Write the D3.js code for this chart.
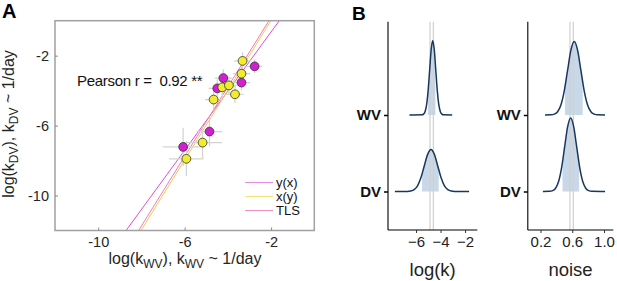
<!DOCTYPE html>
<html><head><meta charset="utf-8">
<script src="https://cdn.jsdelivr.net/npm/d3@7"></script>
<style>
body{margin:0;background:#fff;}
svg{display:block;font-family:"Liberation Sans",Arial,Helvetica,sans-serif;}
</style></head>
<body><svg id="c" width="617" height="281"></svg>
<script>
// ---------- Panel A data ----------
const ptsMagenta = [ // [logkWV, logkDV, errX, errY]
  [-6.07,-7.22,0.95,1.1],[-4.85,-6.34,0.6,0.85],[-4.49,-3.87,0.4,0.5],
  [-4.21,-3.28,0.4,0.5],[-3.37,-3.54,0.4,0.45],[-2.76,-2.61,0.35,0.4]
];
const ptsYellow = [
  [-5.92,-7.90,0.8,1.0],[-5.17,-6.97,0.9,0.9],[-4.66,-4.51,0.4,0.6],
  [-4.26,-3.81,0.4,0.5],[-3.95,-3.70,0.4,0.5],[-3.67,-4.21,0.4,0.5],
  [-3.37,-3.03,0.4,0.5],[-3.32,-2.30,0.4,0.5]
];
const fitNames = ["y(x)","x(y)","TLS"];
const fitEnds = [ // endpoints [x at y=-12, x at y=0]
  [[-8.71,-12],[-1.62,0]],
  [[-8.02,-12],[-2.01,0]],
  [[-8.13,-12],[-2.10,0]]
];
const fitColors = ["#dc4ddc","#f5c84a","#f27ab8"];
const legendColors = ["#e58de5","#f7e07a","#f28fc6"];
const axTicksA = [-10,-6,-2];
const pearsonText = "Pearson r =  0.92 **";

// ---------- Panel B data ----------
const rows = ["WV","DV"];
const ticksLogk = [-6,-4,-2];
const ticksNoise = [0.2,0.6,1.0];
const densLogkWV = [[-6.54,0],[-5.515,0.002],[-5.39,0.011],[-5.265,0.043],[-5.14,0.131],[-5.015,0.315],[-4.89,0.588],[-4.765,0.856],[-4.64,0.97],[-4.515,0.856],[-4.39,0.588],[-4.265,0.315],[-4.14,0.131],[-4.015,0.043],[-3.89,0.011],[-3.765,0.002],[-3.05,0]];
const densLogkDV = [[-7.73,0],[-6.705,0.001],[-6.43,0.006],[-6.155,0.024],[-5.88,0.074],[-5.605,0.179],[-5.33,0.334],[-5.055,0.485],[-4.78,0.55],[-4.505,0.485],[-4.23,0.334],[-3.955,0.179],[-3.68,0.074],[-3.405,0.024],[-3.13,0.006],[-2.855,0.001],[-1.67,0]];
const densNoiseWV = [[0.257,0],[0.331,0.002],[0.373,0.011],[0.415,0.042],[0.457,0.130],[0.499,0.312],[0.541,0.582],[0.583,0.847],[0.625,0.96],[0.667,0.847],[0.709,0.582],[0.751,0.312],[0.793,0.130],[0.835,0.042],[0.877,0.011],[0.919,0.002],[1.013,0]];
const densNoiseDV = [[0.23,0],[0.314,0.002],[0.352,0.011],[0.39,0.042],[0.428,0.130],[0.466,0.312],[0.504,0.582],[0.542,0.847],[0.58,0.96],[0.618,0.847],[0.656,0.582],[0.694,0.312],[0.732,0.130],[0.77,0.042],[0.808,0.011],[0.846,0.002],[1.013,0]];
const ciLogk = {WV:[-5.02,-4.42], DV:[-5.51,-4.15]};
const ciNoise = {WV:[0.508,0.731], DV:[0.477,0.686]};
const refLogk = [-4.86,-4.59];
const refNoise = [0.571,0.613];

const svg = d3.select("#c");

// ================= Panel A =================
const xA = d3.scaleLinear().domain([-12,0]).range([55,314.3]);
const yA = d3.scaleLinear().domain([-12,0]).range([230.5,20.7]);
const gA = svg.append("g");
gA.append("defs").append("clipPath").attr("id","clipA").append("rect")
  .attr("x",xA(-12)).attr("y",yA(0)).attr("width",xA(0)-xA(-12)).attr("height",yA(-12)-yA(0));

const plotA = gA.append("g").attr("clip-path","url(#clipA)");
fitEnds.forEach((e,i)=>{
  plotA.append("line").attr("x1",xA(e[0][0])).attr("y1",yA(e[0][1]))
    .attr("x2",xA(e[1][0])).attr("y2",yA(e[1][1]))
    .attr("stroke",fitColors[i]).attr("stroke-width",1);
});
const allPts = ptsMagenta.map(p=>({p,c:"#d21fd2"})).concat(ptsYellow.map(p=>({p,c:"#f2ec2c"})));
allPts.forEach(({p})=>{
  plotA.append("line").attr("x1",xA(p[0]-p[2])).attr("x2",xA(p[0]+p[2])).attr("y1",yA(p[1])).attr("y2",yA(p[1]))
    .attr("stroke","#d4d4d4").attr("stroke-width",1.3);
  plotA.append("line").attr("x1",xA(p[0])).attr("x2",xA(p[0])).attr("y1",yA(p[1]-p[3])).attr("y2",yA(p[1]+p[3]))
    .attr("stroke","#d4d4d4").attr("stroke-width",1.3);
});
allPts.forEach(({p,c})=>{
  plotA.append("circle").attr("cx",xA(p[0])).attr("cy",yA(p[1])).attr("r",4.4)
    .attr("fill",c).attr("stroke","#333").attr("stroke-width",0.8);
});
gA.append("rect").attr("x",xA(-12)).attr("y",yA(0)).attr("width",xA(0)-xA(-12)).attr("height",yA(-12)-yA(0))
  .attr("fill","none").attr("stroke","#a0a0a0").attr("stroke-width",1.5);
const axXA = gA.append("g").attr("transform",`translate(0,${yA(-12)})`)
  .call(d3.axisBottom(xA).tickValues(axTicksA).tickSize(-3).tickPadding(6).tickFormat(d=>String(d)));
const axYA = gA.append("g").attr("transform",`translate(${xA(-12)},0)`)
  .call(d3.axisLeft(yA).tickValues(axTicksA).tickSize(-3).tickPadding(6).tickFormat(d=>String(d)));
[axXA,axYA].forEach(a=>{
  a.select(".domain").remove();
  a.selectAll(".tick line").attr("stroke","#8a8a8a");
  a.selectAll("text").attr("font-size",14.5).attr("fill","#262626").attr("font-family","Liberation Sans, Arial, sans-serif");
});
gA.append("text").attr("x",77).attr("y",86).attr("font-size",15).attr("letter-spacing",-0.3).attr("fill","#111")
  .attr("xml:space","preserve").text(pearsonText);
fitNames.forEach((n,i)=>{
  const yy = 182.5 + i*14;
  gA.append("line").attr("x1",245).attr("x2",273).attr("y1",yy).attr("y2",yy)
    .attr("stroke",legendColors[i]).attr("stroke-width",1);
  gA.append("text").attr("x",276).attr("y",yy+4.5).attr("font-size",13).attr("fill","#111").text(n);
});
const xl = gA.append("text").attr("x",185).attr("y",264).attr("text-anchor","middle").attr("font-size",16).attr("fill","#262626");
xl.append("tspan").text("log(k");
xl.append("tspan").attr("font-size",12).attr("dy",4).text("WV");
xl.append("tspan").attr("dy",-4).text("), k");
xl.append("tspan").attr("font-size",12).attr("dy",4).text("WV");
xl.append("tspan").attr("dy",-4).text(" ~ 1/day");
const yl = gA.append("text").attr("transform","translate(14,124) rotate(-90)").attr("text-anchor","middle").attr("font-size",16).attr("fill","#262626");
yl.append("tspan").text("log(k");
yl.append("tspan").attr("font-size",12).attr("dy",4).text("DV");
yl.append("tspan").attr("dy",-4).text("), k");
yl.append("tspan").attr("font-size",12).attr("dy",4).text("DV");
yl.append("tspan").attr("dy",-4).text(" ~ 1/day");
svg.append("text").attr("x",2).attr("y",18).attr("font-size",20).attr("font-weight","bold").text("A");

// ================= Panel B =================
svg.append("text").attr("x",352).attr("y",20).attr("font-size",19).attr("font-weight","bold").text("B");
const yRow = d3.scalePoint().domain(rows).range([115,191.5]);
const rowH = 76.5;
const topB = 21.7, botB = 230;

function ridgePanel(id, x, dens, ci, refs, ticks, fmt, title){
  const g = svg.append("g");
  const [x0,x1] = x.range();
  rows.forEach(r=>{
    const d = dens[r];
    const base = yRow(r);
    const area = d3.area().x(p=>x(p[0])).y0(base).y1(p=>base - p[1]*rowH).curve(d3.curveMonotoneX);
    const cid = `ci-${id}-${r}`;
    g.append("clipPath").attr("id",cid).append("rect")
      .attr("x",x(ci[r][0])).attr("y",0).attr("width",x(ci[r][1])-x(ci[r][0])).attr("height",281);
    g.append("path").datum(d).attr("d",area).attr("fill","#c9d8e8").attr("clip-path",`url(#${cid})`);
  });
  refs.forEach(r=>{
    g.append("line").attr("x1",x(r)).attr("x2",x(r)).attr("y1",topB).attr("y2",botB)
      .attr("stroke","#d0d0d0").attr("stroke-width",1.2);
  });
  rows.forEach(r=>{
    const d = dens[r];
    const base = yRow(r);
    const line = d3.line().x(p=>x(p[0])).y(p=>base - p[1]*rowH).curve(d3.curveMonotoneX);
    g.append("path").datum(d).attr("d",line).attr("fill","none").attr("stroke","#17375e").attr("stroke-width",1.5);
  });
  const ax = g.append("g").attr("transform",`translate(0,${botB})`)
    .call(d3.axisBottom(x).tickValues(ticks).tickSize(3).tickPadding(3).tickFormat(fmt));
  ax.select(".domain").attr("d",`M${x0},0H${x1}`).attr("stroke","#000").attr("stroke-width",1.1);
  ax.selectAll(".tick line").attr("stroke","#333");
  ax.selectAll("text").attr("font-size",15).attr("fill","#222").attr("font-family","Liberation Sans, Arial, sans-serif");
  const yax = g.append("g").attr("transform",`translate(${x0},0)`)
    .call(d3.axisLeft(yRow).tickSize(4).tickPadding(3));
  yax.select(".domain").attr("d",`M0,${topB}V${botB}`).attr("stroke","#000").attr("stroke-width",1.1);
  yax.selectAll(".tick line").attr("stroke","#000").attr("stroke-width",1.5);
  yax.selectAll("text").attr("font-size",15).attr("font-weight","bold").attr("fill","#111")
    .attr("font-family","Liberation Sans, Arial, sans-serif");
  g.append("text").attr("x",(x0+x1)/2).attr("y",276).attr("text-anchor","middle")
    .attr("font-size",18.5).attr("fill","#222").text(title);
}
const xLogk = d3.scaleLinear().domain([-8.29,-1.0]).range([388,477.3]);
const xNoise = d3.scaleLinear().domain([0.04,1.117]).range([527.8,613.3]);
ridgePanel("k", xLogk, {WV:densLogkWV, DV:densLogkDV}, ciLogk, refLogk, ticksLogk, d=>"\u2212"+Math.abs(d), "log(k)");
ridgePanel("n", xNoise, {WV:densNoiseWV, DV:densNoiseDV}, ciNoise, refNoise, ticksNoise, d3.format(".1f"), "noise");
</script></body></html>
